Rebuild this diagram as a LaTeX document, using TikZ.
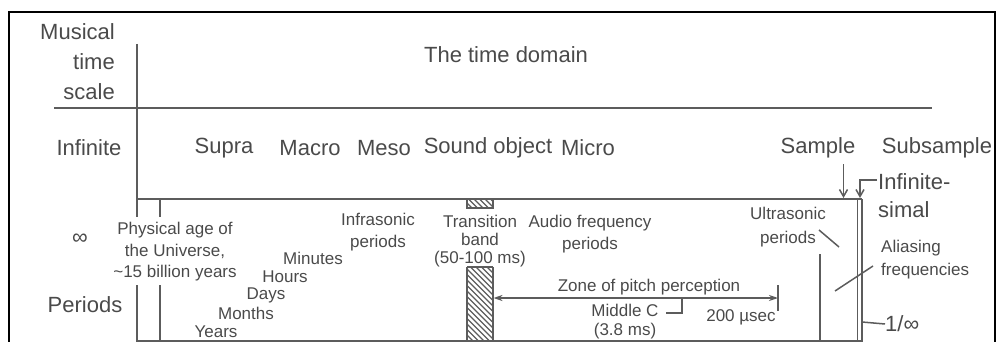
\documentclass[tikz,border=0pt]{standalone}
\usepackage{fontspec}
\setmainfont{Liberation Sans}
\usetikzlibrary{arrows.meta}
\definecolor{txt}{HTML}{4A4A4A}
\definecolor{ln}{HTML}{5C5C5C}
\begin{document}
\begin{tikzpicture}[x=1pt,y=-1pt,
  big/.style={font=\fontsize{22}{30}\selectfont, text=txt, inner sep=0pt},
  small/.style={font=\fontsize{17}{21.5}\selectfont, text=txt, inner sep=0pt},
  rule/.style={draw=ln, line width=1.8pt},
  thin/.style={draw=ln, line width=1.5pt},
  frame/.style={draw=black, line width=2pt},
  barb/.style={-{Straight Barb[length=7pt,width=8pt]}},
  pitcharrow/.style={{Stealth[length=9pt,width=6pt]}-{Stealth[length=9pt,width=6pt]}},
]
\useasboundingbox (0,0) rectangle (998,342);
% outer frame
\draw[frame] (9,350) -- (9,12) -- (995,12) -- (995,350);

% grid lines
\draw[rule] (137,44) -- (137,217);
\draw[rule] (137,285) -- (137,350);
\draw[rule] (54,108) -- (932,108);
\draw[rule] (137,199) -- (862,199);
\draw[rule] (160,199) -- (160,217);
\draw[rule] (160,285) -- (160,350);
\draw[rule] (137,341) -- (862,341);
\draw[rule] (857.5,199) -- (857.5,350);
\draw[rule] (862,199) -- (862,350);

% header texts
\node[big, align=right, anchor=east] (mts) at (115,62) {Musical\\time\\scale};
\node[big] (title) at (506,55) {The time domain};

% row of time scales
\node[big] (infinite) at (89,148) {Infinite};
\node[big] (supra) at (224,148) {Supra};
\node[big] (macro) at (310,148) {Macro};
\node[big] (meso) at (384,148) {Meso};
\node[big] (sound) at (488,148) {Sound object};
\node[big] (micro) at (588,148) {Micro};
\node[big] (sample) at (818,148) {Sample};
\node[big] (subsample) at (937,148) {Subsample};

% left column
\node[big] (inf) at (80,239) {∞};
\node[big] (periods) at (85,305) {Periods};

% transition band (hatched)
\begin{scope}
  \clip (467,199) rectangle (493,208) (467,267) rectangle (493,341);
  \foreach \k in {300,305.5,...,500} \draw[ln, line width=1.3pt] (\k,190) -- ++(160,160);
\end{scope}
\draw[thin] (467,199) rectangle (493,208);
\draw[thin] (467,267) -- (467,341) (493,267) -- (493,341) (467,267) -- (493,267);

% period texts
\node[small, align=center] (age) at (175,252) {Physical age of\\the Universe,\\\textasciitilde 15 billion years};
\node[small] (years) at (216,332) {Years};
\node[small] (months) at (246,313) {Months};
\node[small] (days) at (266,295) {Days};
\node[small] (hours) at (285,277) {Hours};
\node[small] (minutes) at (313,258) {Minutes};
\node[small, align=center] (infra) at (378,232) {Infrasonic\\periods};
\node[small, align=center, font=\fontsize{17}{18}\selectfont] (trans) at (480,241) {Transition\\band\\(50-100 ms)};
\node[small, align=center] (audio) at (590,234) {Audio frequency\\periods};
\node[small] (zone) at (649,287) {Zone of pitch perception};
\node[small, align=center, font=\fontsize{17}{19}\selectfont] (midc) at (625,322) {Middle C\\(3.8 ms)};
\node[small] (usec) at (741,317) {200 µsec};
\node[small, align=center, font=\fontsize{17}{23.5}\selectfont] (ultra) at (788,227) {Ultrasonic\\periods};
\node[big, align=left, anchor=west, font=\fontsize{22}{28}\selectfont] (infsimal) at (878,196) {Infinite-\\simal};
\node[small, align=left, anchor=west, font=\fontsize{17}{23}\selectfont] (alias) at (881,260) {Aliasing\\frequencies};
\node[big, anchor=west] (oneinf) at (885,324) {1/∞};

% arrows and markers
\coordinate (sampTop) at (843.5,164);
\coordinate (sampTip) at (843.5,198);
\draw[thin, barb] (sampTop) -- (sampTip);
\coordinate (isTop) at (877,180);
\coordinate (isTip) at (860,198);
\draw[thin, barb] (isTop) -- (isTip |- isTop) -- (isTip);
\coordinate (oneinfL) at (862,322);
\draw[thin] (oneinfL) -- (oneinf.west);
\coordinate (alA) at (835,291);
\coordinate (alB) at (873,266);
\draw[thin] (alA) -- (alB);
\coordinate (usA) at (819,230);
\coordinate (usB) at (839,247);
\draw[thin] (usA) -- (usB);
\draw[rule] (820,254) -- (820,341);

\coordinate (pitchL) at (493.5,298);
\coordinate (pitchR) at (778,298);
\draw[thin, pitcharrow] (pitchL) -- (pitchR);
\draw[thin] (778,285) -- (778,311);
\coordinate (mcA) at (682,299);
\draw[thin] (mcA) -- (682,313) -- (666,313);
\end{tikzpicture}
\end{document}
